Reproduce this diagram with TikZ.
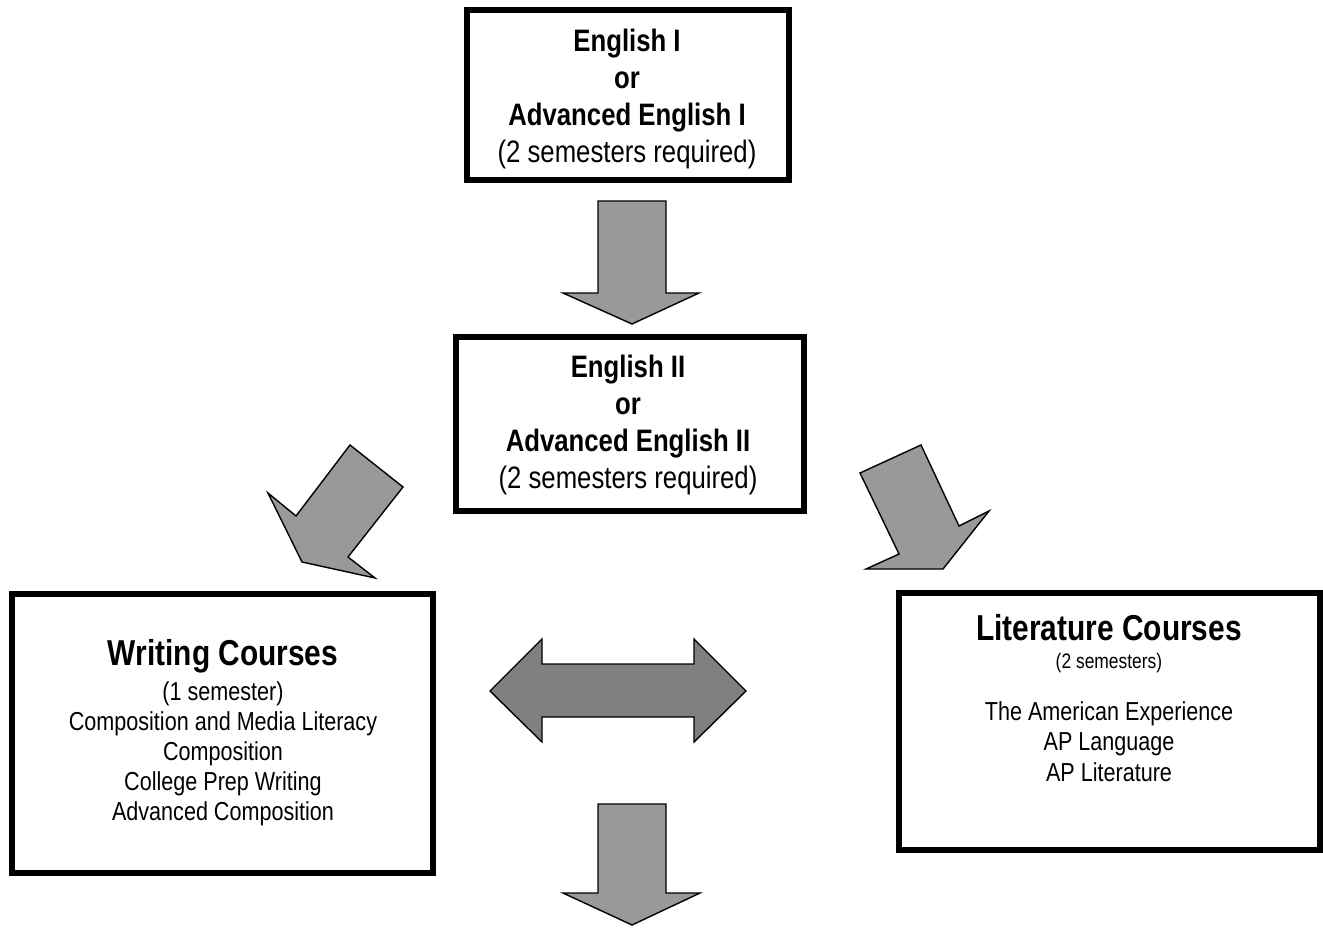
\documentclass[tikz,border=0pt]{standalone}
\usepackage{fontspec}
\setmainfont{Liberation Sans}[FakeStretch=0.83]
\usepackage{xcolor}
\usepackage{tikz}
\usetikzlibrary{positioning}

\definecolor{arrowgray}{RGB}{153,153,153}
\definecolor{darkgray}{RGB}{128,128,128}

\tikzset{
    coursebox/.style={draw, line width=6pt, inner sep=0pt},
    boxtext/.style={align=center, anchor=base, inner sep=0pt},
    blockarrow/.style={draw, line width=1.4pt, line join=miter, fill=arrowgray}
}

\begin{document}
\begin{tikzpicture}[x=1pt, y=-1pt]
        \useasboundingbox (0,0) rectangle (1323,928);

        % Course boxes
        \node[coursebox, minimum width=322pt, minimum height=170pt] (eng1) at (628,95) {};
        \node[coursebox, minimum width=348pt, minimum height=174pt] (eng2) at (630,424) {};
        \node[coursebox, minimum width=421pt, minimum height=279pt] (writing) at (222.5,733.5) {};
        \node[coursebox, minimum width=421pt, minimum height=257pt] (lit) at (1109.5,721.5) {};

        % Box texts (base = last line)
        \node[boxtext, font=\fontsize{31}{37.3}\selectfont] (eng1text) at (627,163)
            {\textbf{English I}\\ \textbf{or}\\ \textbf{Advanced English I}\\ (2 semesters required)};
        \node[boxtext, font=\fontsize{31}{36.7}\selectfont] (eng2text) at (628,488)
            {\textbf{English II}\\ \textbf{or}\\ \textbf{Advanced English II}\\ (2 semesters required)};
        \node[boxtext, font=\fontsize{36}{40}\selectfont\bfseries] (writingtitle) at (223,665) {Writing Courses};
        \node[boxtext, font=\fontsize{26}{29.8}\selectfont] (writinglist) at (223,820)
            {(1 semester)\\ Composition and Media Literacy\\ Composition\\ College Prep Writing\\ Advanced Composition};
        \node[boxtext, font=\fontsize{36}{40}\selectfont\bfseries] (littitle) at (1109,640) {Literature Courses};
        \node[boxtext, font=\fontsize{21}{24}\selectfont] (litnote) at (1109,668) {(2 semesters)};
        \node[boxtext, font=\fontsize{26}{30.5}\selectfont] (litlist) at (1109,781)
            {The American Experience\\ AP Language\\ AP Literature};

        % Block arrows
        \draw[blockarrow] (598,201) -- (666,201) -- (666,293) -- (699,293) -- (632,324) -- (563,293) -- (598,293) -- cycle;
        \draw[blockarrow] (350,445) -- (403,487) -- (348,557) -- (375,578) -- (302,562) -- (268,493) -- (296,516) -- cycle;
        \draw[blockarrow] (860,473) -- (921,445) -- (959,526) -- (989,511) -- (943,569) -- (866,569) -- (899,554) -- cycle;
        \draw[blockarrow, fill=darkgray] (490,691) -- (542,639) -- (542,664) -- (694,664) -- (694,639) -- (746,691)
            -- (694,742) -- (694,717) -- (542,717) -- (542,742) -- cycle;
        \draw[blockarrow] (598,804) -- (666,804) -- (666,893) -- (700,893) -- (632,925) -- (563,893) -- (598,893) -- cycle;
\end{tikzpicture}
\end{document}
